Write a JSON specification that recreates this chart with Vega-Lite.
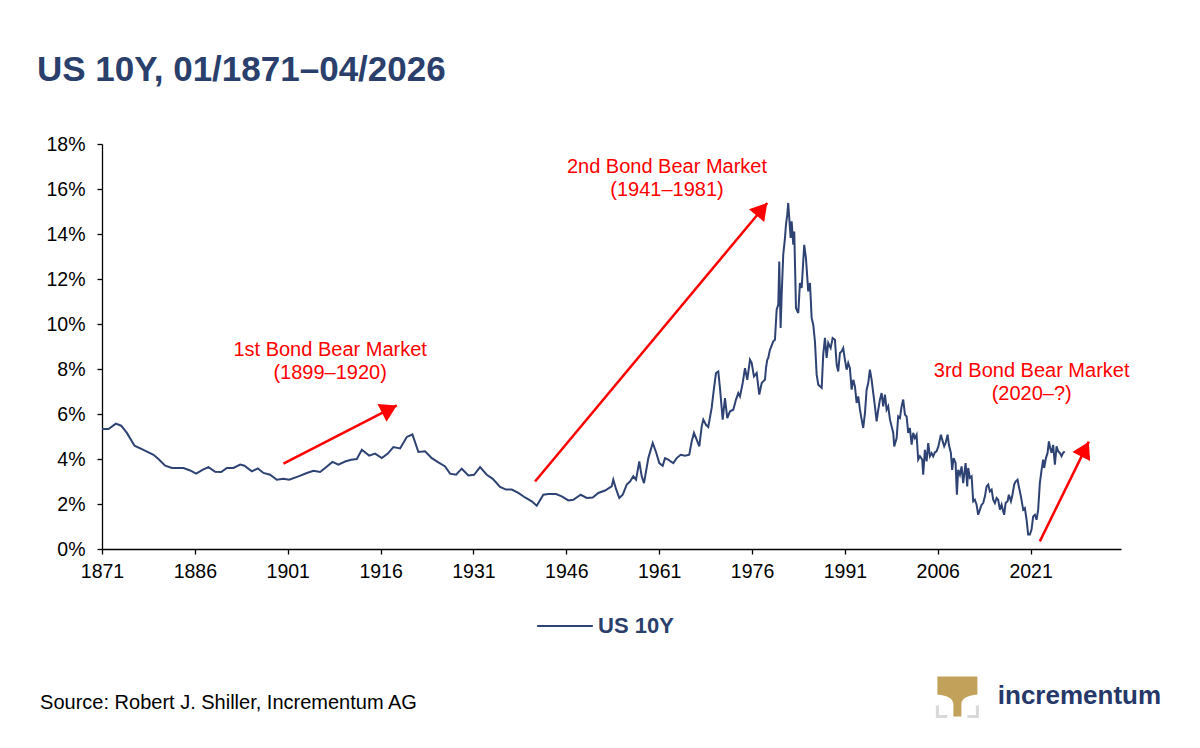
{
  "$schema": "https://vega.github.io/schema/vega-lite/v6.json",
  "width": 1019,
  "height": 405,
  "autosize": "none",
  "padding": {"left": 102, "top": 144, "right": 79, "bottom": 199},
  "background": "white",
  "config": {
    "font": "Liberation Sans",
    "view": {"stroke": null},
    "axis": {
      "grid": false,
      "domainColor": "#000000",
      "domainWidth": 1.3,
      "tickColor": "#000000",
      "tickWidth": 1.3,
      "tickSize": 5,
      "labelFont": "Liberation Sans",
      "labelFontSize": 19.5,
      "labelColor": "#000000",
      "titleFontSize": 0
    }
  },
  "title": {
    "text": "US 10Y, 01/1871–04/2026",
    "anchor": "start",
    "frame": "group",
    "dx": -65,
    "offset": 18,
    "baseline": "alphabetic",
    "font": "Liberation Sans",
    "fontSize": 35,
    "fontWeight": "bold",
    "color": "#2A3F6C"
  },
  "datasets": {
    "yields": [
      {"t": 1871.0, "v": 5.33}, {"t": 1872.05, "v": 5.33}, {"t": 1873.24, "v": 5.57}, {"t": 1874.1, "v": 5.48},
      {"t": 1875.02, "v": 5.16}, {"t": 1876.25, "v": 4.59}, {"t": 1877.44, "v": 4.44}, {"t": 1879.32, "v": 4.19},
      {"t": 1880.12, "v": 4.0}, {"t": 1881.2, "v": 3.7}, {"t": 1882.29, "v": 3.6}, {"t": 1884.16, "v": 3.6},
      {"t": 1885.24, "v": 3.49}, {"t": 1886.21, "v": 3.35}, {"t": 1887.23, "v": 3.52}, {"t": 1888.2, "v": 3.64},
      {"t": 1889.28, "v": 3.43}, {"t": 1890.25, "v": 3.42}, {"t": 1891.17, "v": 3.6}, {"t": 1892.23, "v": 3.6},
      {"t": 1893.32, "v": 3.75}, {"t": 1894.01, "v": 3.7}, {"t": 1895.2, "v": 3.45}, {"t": 1896.17, "v": 3.58},
      {"t": 1897.08, "v": 3.38}, {"t": 1898.16, "v": 3.3}, {"t": 1899.24, "v": 3.08}, {"t": 1900.31, "v": 3.12},
      {"t": 1901.23, "v": 3.08}, {"t": 1902.73, "v": 3.23}, {"t": 1904.09, "v": 3.38}, {"t": 1905.15, "v": 3.48},
      {"t": 1906.23, "v": 3.42}, {"t": 1907.04, "v": 3.6}, {"t": 1908.22, "v": 3.87}, {"t": 1909.19, "v": 3.75},
      {"t": 1910.27, "v": 3.89}, {"t": 1911.24, "v": 3.97}, {"t": 1912.16, "v": 4.0}, {"t": 1912.97, "v": 4.41},
      {"t": 1914.15, "v": 4.15}, {"t": 1915.11, "v": 4.24}, {"t": 1916.2, "v": 4.04}, {"t": 1917.16, "v": 4.24},
      {"t": 1918.07, "v": 4.53}, {"t": 1919.15, "v": 4.47}, {"t": 1920.23, "v": 4.98}, {"t": 1921.14, "v": 5.09},
      {"t": 1922.11, "v": 4.31}, {"t": 1923.19, "v": 4.34}, {"t": 1924.27, "v": 4.04}, {"t": 1925.34, "v": 3.85},
      {"t": 1926.42, "v": 3.67}, {"t": 1927.22, "v": 3.35}, {"t": 1928.19, "v": 3.3}, {"t": 1929.11, "v": 3.57},
      {"t": 1930.18, "v": 3.27}, {"t": 1931.1, "v": 3.3}, {"t": 1932.07, "v": 3.64}, {"t": 1933.15, "v": 3.3},
      {"t": 1934.12, "v": 3.12}, {"t": 1935.3, "v": 2.76}, {"t": 1936.27, "v": 2.64}, {"t": 1937.19, "v": 2.64},
      {"t": 1938.25, "v": 2.49}, {"t": 1939.33, "v": 2.29}, {"t": 1940.42, "v": 2.12}, {"t": 1941.22, "v": 1.92},
      {"t": 1942.29, "v": 2.41}, {"t": 1943.1, "v": 2.44}, {"t": 1944.34, "v": 2.44}, {"t": 1945.26, "v": 2.34},
      {"t": 1946.33, "v": 2.16}, {"t": 1947.13, "v": 2.19}, {"t": 1948.33, "v": 2.41}, {"t": 1949.3, "v": 2.27},
      {"t": 1950.27, "v": 2.29}, {"t": 1951.17, "v": 2.49}, {"t": 1952.25, "v": 2.6}, {"t": 1953.33, "v": 2.78},
      {"t": 1953.59, "v": 3.08}, {"t": 1954.03, "v": 2.67}, {"t": 1954.56, "v": 2.27}, {"t": 1955.11, "v": 2.41},
      {"t": 1955.76, "v": 2.86}, {"t": 1956.29, "v": 3.0}, {"t": 1956.82, "v": 3.23}, {"t": 1957.26, "v": 3.08},
      {"t": 1957.79, "v": 3.89}, {"t": 1958.18, "v": 3.23}, {"t": 1958.55, "v": 2.93}, {"t": 1959.25, "v": 4.04},
      {"t": 1959.96, "v": 4.71}, {"t": 1960.5, "v": 4.3}, {"t": 1961.02, "v": 3.82}, {"t": 1961.57, "v": 3.7},
      {"t": 1961.94, "v": 4.04}, {"t": 1962.47, "v": 3.97}, {"t": 1962.86, "v": 3.89}, {"t": 1963.28, "v": 3.82},
      {"t": 1963.83, "v": 4.04}, {"t": 1964.48, "v": 4.19}, {"t": 1965.17, "v": 4.15}, {"t": 1965.86, "v": 4.19},
      {"t": 1966.25, "v": 4.78}, {"t": 1966.62, "v": 5.16}, {"t": 1967.06, "v": 4.86}, {"t": 1967.48, "v": 4.56},
      {"t": 1967.87, "v": 5.45}, {"t": 1968.13, "v": 5.75}, {"t": 1968.56, "v": 5.52}, {"t": 1968.93, "v": 5.42},
      {"t": 1969.48, "v": 6.27}, {"t": 1969.86, "v": 7.16}, {"t": 1970.18, "v": 7.82}, {"t": 1970.55, "v": 7.89},
      {"t": 1970.82, "v": 7.16}, {"t": 1971.26, "v": 5.75}, {"t": 1971.63, "v": 6.71}, {"t": 1972.0, "v": 5.82},
      {"t": 1972.44, "v": 6.12}, {"t": 1972.97, "v": 6.19}, {"t": 1973.41, "v": 6.64}, {"t": 1973.78, "v": 6.93},
      {"t": 1974.05, "v": 6.78}, {"t": 1974.49, "v": 7.38}, {"t": 1974.86, "v": 8.04}, {"t": 1975.23, "v": 7.52},
      {"t": 1975.67, "v": 8.41}, {"t": 1975.94, "v": 8.27}, {"t": 1976.31, "v": 7.67}, {"t": 1976.75, "v": 7.82},
      {"t": 1977.17, "v": 6.86}, {"t": 1977.56, "v": 7.38}, {"t": 1977.81, "v": 7.45}, {"t": 1978.09, "v": 7.52},
      {"t": 1978.25, "v": 8.04}, {"t": 1978.46, "v": 8.41}, {"t": 1978.62, "v": 8.49}, {"t": 1978.9, "v": 8.86},
      {"t": 1979.01, "v": 8.93}, {"t": 1979.43, "v": 9.23}, {"t": 1979.7, "v": 9.3}, {"t": 1979.98, "v": 10.64},
      {"t": 1980.24, "v": 10.86}, {"t": 1980.4, "v": 12.78}, {"t": 1980.62, "v": 9.82}, {"t": 1980.79, "v": 11.3},
      {"t": 1981.04, "v": 13.08}, {"t": 1981.32, "v": 13.82}, {"t": 1981.48, "v": 14.41}, {"t": 1981.69, "v": 14.86},
      {"t": 1981.85, "v": 15.38}, {"t": 1982.01, "v": 14.71}, {"t": 1982.24, "v": 13.82}, {"t": 1982.4, "v": 14.56},
      {"t": 1982.66, "v": 13.52}, {"t": 1982.82, "v": 14.11}, {"t": 1983.1, "v": 10.71}, {"t": 1983.47, "v": 10.49},
      {"t": 1983.74, "v": 11.82}, {"t": 1984.02, "v": 11.6}, {"t": 1984.43, "v": 13.52}, {"t": 1984.71, "v": 12.93},
      {"t": 1985.08, "v": 11.45}, {"t": 1985.36, "v": 11.82}, {"t": 1985.63, "v": 10.27}, {"t": 1985.89, "v": 9.97},
      {"t": 1986.16, "v": 9.23}, {"t": 1986.44, "v": 7.75}, {"t": 1986.7, "v": 7.3}, {"t": 1986.97, "v": 7.23},
      {"t": 1987.25, "v": 7.16}, {"t": 1987.5, "v": 8.64}, {"t": 1987.78, "v": 9.38}, {"t": 1988.05, "v": 8.49},
      {"t": 1988.31, "v": 9.16}, {"t": 1988.7, "v": 8.93}, {"t": 1989.02, "v": 9.38}, {"t": 1989.39, "v": 9.3},
      {"t": 1989.67, "v": 8.2}, {"t": 1989.92, "v": 7.89}, {"t": 1990.2, "v": 8.71}, {"t": 1990.47, "v": 8.78},
      {"t": 1990.73, "v": 8.93}, {"t": 1991.01, "v": 8.41}, {"t": 1991.28, "v": 7.97}, {"t": 1991.54, "v": 8.27},
      {"t": 1991.81, "v": 8.04}, {"t": 1992.09, "v": 7.08}, {"t": 1992.35, "v": 7.52}, {"t": 1992.62, "v": 7.23},
      {"t": 1992.9, "v": 6.49}, {"t": 1993.16, "v": 6.78}, {"t": 1993.43, "v": 6.19}, {"t": 1993.71, "v": 5.75},
      {"t": 1993.96, "v": 5.38}, {"t": 1994.24, "v": 6.04}, {"t": 1994.51, "v": 7.08}, {"t": 1994.77, "v": 7.38},
      {"t": 1995.04, "v": 7.97}, {"t": 1995.32, "v": 7.52}, {"t": 1995.58, "v": 6.93}, {"t": 1995.85, "v": 6.34},
      {"t": 1996.13, "v": 5.67}, {"t": 1996.39, "v": 6.19}, {"t": 1996.66, "v": 6.64}, {"t": 1996.93, "v": 6.93},
      {"t": 1997.19, "v": 6.34}, {"t": 1997.47, "v": 6.86}, {"t": 1997.74, "v": 6.19}, {"t": 1998.0, "v": 6.34},
      {"t": 1998.28, "v": 5.75}, {"t": 1998.55, "v": 5.45}, {"t": 1998.81, "v": 5.16}, {"t": 1998.97, "v": 4.56},
      {"t": 1999.36, "v": 4.93}, {"t": 1999.61, "v": 5.89}, {"t": 1999.89, "v": 5.82}, {"t": 2000.16, "v": 6.34},
      {"t": 2000.42, "v": 6.64}, {"t": 2000.7, "v": 5.97}, {"t": 2000.97, "v": 5.89}, {"t": 2001.23, "v": 5.16},
      {"t": 2001.5, "v": 5.38}, {"t": 2001.78, "v": 4.64}, {"t": 2002.04, "v": 5.16}, {"t": 2002.31, "v": 4.93},
      {"t": 2002.58, "v": 5.08}, {"t": 2002.84, "v": 3.97}, {"t": 2003.12, "v": 4.12}, {"t": 2003.49, "v": 3.97},
      {"t": 2003.65, "v": 3.3}, {"t": 2003.92, "v": 4.41}, {"t": 2004.2, "v": 3.89}, {"t": 2004.46, "v": 4.71},
      {"t": 2004.73, "v": 4.12}, {"t": 2005.0, "v": 4.26}, {"t": 2005.26, "v": 4.12}, {"t": 2005.54, "v": 4.3},
      {"t": 2005.81, "v": 4.34}, {"t": 2006.1, "v": 4.56}, {"t": 2006.51, "v": 5.08}, {"t": 2006.72, "v": 4.86},
      {"t": 2007.04, "v": 4.56}, {"t": 2007.27, "v": 4.71}, {"t": 2007.59, "v": 5.08}, {"t": 2007.8, "v": 4.63},
      {"t": 2008.12, "v": 4.27}, {"t": 2008.33, "v": 3.52}, {"t": 2008.56, "v": 4.04}, {"t": 2008.88, "v": 3.82},
      {"t": 2009.09, "v": 2.41}, {"t": 2009.3, "v": 3.52}, {"t": 2009.58, "v": 3.3}, {"t": 2009.85, "v": 3.67},
      {"t": 2010.11, "v": 2.93}, {"t": 2010.5, "v": 3.82}, {"t": 2010.76, "v": 2.78}, {"t": 2010.92, "v": 3.6},
      {"t": 2011.19, "v": 3.16}, {"t": 2011.47, "v": 3.23}, {"t": 2011.73, "v": 2.12}, {"t": 2012.0, "v": 2.19},
      {"t": 2012.27, "v": 1.97}, {"t": 2012.53, "v": 1.52}, {"t": 2012.81, "v": 1.75}, {"t": 2013.08, "v": 1.97},
      {"t": 2013.34, "v": 2.04}, {"t": 2013.62, "v": 2.34}, {"t": 2013.89, "v": 2.78}, {"t": 2014.15, "v": 2.86},
      {"t": 2014.42, "v": 2.56}, {"t": 2014.7, "v": 2.64}, {"t": 2014.96, "v": 2.19}, {"t": 2015.23, "v": 2.04},
      {"t": 2015.51, "v": 2.27}, {"t": 2015.76, "v": 2.19}, {"t": 2016.04, "v": 1.75}, {"t": 2016.31, "v": 1.97},
      {"t": 2016.57, "v": 1.67}, {"t": 2016.73, "v": 1.52}, {"t": 2016.96, "v": 2.04}, {"t": 2017.28, "v": 2.12},
      {"t": 2017.49, "v": 2.41}, {"t": 2017.82, "v": 2.12}, {"t": 2018.02, "v": 2.34}, {"t": 2018.35, "v": 2.86},
      {"t": 2018.57, "v": 3.0}, {"t": 2018.89, "v": 3.08}, {"t": 2019.1, "v": 2.78}, {"t": 2019.43, "v": 2.34},
      {"t": 2019.8, "v": 1.75}, {"t": 2020.07, "v": 1.82}, {"t": 2020.35, "v": 1.3}, {"t": 2020.6, "v": 0.64},
      {"t": 2020.88, "v": 0.64}, {"t": 2021.15, "v": 0.86}, {"t": 2021.41, "v": 1.45}, {"t": 2021.69, "v": 1.52},
      {"t": 2021.96, "v": 1.3}, {"t": 2022.22, "v": 1.75}, {"t": 2022.49, "v": 2.93}, {"t": 2022.77, "v": 3.52},
      {"t": 2023.03, "v": 3.97}, {"t": 2023.19, "v": 3.6}, {"t": 2023.47, "v": 4.04}, {"t": 2023.74, "v": 4.27},
      {"t": 2023.95, "v": 4.78}, {"t": 2024.16, "v": 4.49}, {"t": 2024.39, "v": 4.27}, {"t": 2024.64, "v": 4.63},
      {"t": 2024.92, "v": 3.75}, {"t": 2025.19, "v": 4.56}, {"t": 2025.45, "v": 4.34}, {"t": 2025.72, "v": 4.27},
      {"t": 2025.99, "v": 4.12}, {"t": 2026.25, "v": 4.27}, {"t": 2026.5, "v": 4.34}
    ],
    "arrows": [
      {"id": 1, "t": 1900.31, "v": 3.79, "t2": 1918.62, "v2": 6.38},
      {"id": 2, "t": 1940.95, "v": 3.0, "t2": 1978.46, "v2": 15.38},
      {"id": 3, "t": 2022.49, "v": 0.34, "t2": 2030.4, "v2": 4.77}
    ],
    "notes": [
      {"t": 1907.85, "v": 8.86, "label": "1st Bond Bear Market"},
      {"t": 1907.85, "v": 7.84, "label": "(1899–1920)"},
      {"t": 1962.26, "v": 16.99, "label": "2nd Bond Bear Market"},
      {"t": 1962.26, "v": 15.97, "label": "(1941–1981)"},
      {"t": 2021.17, "v": 7.93, "label": "3rd Bond Bear Market"},
      {"t": 2021.17, "v": 6.9, "label": "(2020–?)"}
    ],
    "footer": [
      {"t": 1861.0, "v": -6.83, "label": "Source: Robert J. Shiller, Incrementum AG"}
    ],
    "brand": [
      {"t": 2015.7, "v": -6.55, "label": "incrementum"}
    ],
    "logo": [
      {"t": 2009.17, "v": -6.56}
    ]
  },
  "layer": [
    {
      "data": {"name": "yields"},
      "mark": {"type": "line", "strokeWidth": 2, "interpolate": "linear"},
      "encoding": {
        "x": {
          "field": "t", "type": "quantitative",
          "scale": {"domain": [1871, 2035.6], "nice": false, "zero": false},
          "axis": {
            "title": null,
            "values": [1871, 1886, 1901, 1916, 1931, 1946, 1961, 1976, 1991, 2006, 2021],
            "format": "d",
            "labelPadding": 8,
            "labelFlush": false
          }
        },
        "y": {
          "field": "v", "type": "quantitative",
          "scale": {"domain": [0, 18], "nice": false},
          "axis": {
            "title": null,
            "values": [0, 2, 4, 6, 8, 10, 12, 14, 16, 18],
            "labelExpr": "datum.value + '%'",
            "labelPadding": 12
          }
        },
        "color": {
          "datum": "US 10Y",
          "type": "nominal",
          "scale": {"domain": ["US 10Y"], "range": ["#2E4373"]},
          "legend": {
            "title": null,
            "orient": "none",
            "legendX": 434,
            "legendY": 453,
            "symbolType": "stroke",
            "symbolSize": 3100,
            "symbolStrokeWidth": 2,
            "labelFont": "Liberation Sans",
            "labelFontSize": 22,
            "labelFontWeight": "bold",
            "labelColor": "#2A3F6C",
            "labelOffset": 4
          }
        }
      }
    },
    {
      "data": {"name": "arrows"},
      "mark": {"type": "rule", "color": "#FF0000", "strokeWidth": 2.5},
      "encoding": {
        "x": {"field": "t", "type": "quantitative"},
        "y": {"field": "v", "type": "quantitative"},
        "x2": {"field": "t2"},
        "y2": {"field": "v2"}
      }
    },
    {
      "data": {"name": "arrows"},
      "transform": [{"filter": "datum.id == 1"}],
      "mark": {"type": "point", "shape": "M0,0 L-0.6,1 L0.6,1 Z", "size": 1100, "filled": true, "opacity": 1, "color": "#FF0000", "angle": 63},
      "encoding": {
        "x": {"field": "t2", "type": "quantitative"},
        "y": {"field": "v2", "type": "quantitative"}
      }
    },
    {
      "data": {"name": "arrows"},
      "transform": [{"filter": "datum.id == 2"}],
      "mark": {"type": "point", "shape": "M0,0 L-0.6,1 L0.6,1 Z", "size": 1100, "filled": true, "opacity": 1, "color": "#FF0000", "angle": 40},
      "encoding": {
        "x": {"field": "t2", "type": "quantitative"},
        "y": {"field": "v2", "type": "quantitative"}
      }
    },
    {
      "data": {"name": "arrows"},
      "transform": [{"filter": "datum.id == 3"}],
      "mark": {"type": "point", "shape": "M0,0 L-0.6,1 L0.6,1 Z", "size": 1100, "filled": true, "opacity": 1, "color": "#FF0000", "angle": 27},
      "encoding": {
        "x": {"field": "t2", "type": "quantitative"},
        "y": {"field": "v2", "type": "quantitative"}
      }
    },
    {
      "data": {"name": "notes"},
      "mark": {"type": "text", "color": "#FF0000", "font": "Liberation Sans", "fontSize": 20, "align": "center", "baseline": "middle"},
      "encoding": {
        "x": {"field": "t", "type": "quantitative"},
        "y": {"field": "v", "type": "quantitative"},
        "text": {"field": "label"}
      }
    },
    {
      "data": {"name": "footer"},
      "mark": {"type": "text", "color": "#000000", "font": "Liberation Sans", "fontSize": 20, "align": "left", "baseline": "middle"},
      "encoding": {
        "x": {"field": "t", "type": "quantitative"},
        "y": {"field": "v", "type": "quantitative"},
        "text": {"field": "label"}
      }
    },
    {
      "data": {"name": "brand"},
      "mark": {"type": "text", "color": "#26386A", "font": "Liberation Sans", "fontSize": 26, "fontWeight": "bold", "align": "left", "baseline": "middle"},
      "encoding": {
        "x": {"field": "t", "type": "quantitative"},
        "y": {"field": "v", "type": "quantitative"},
        "text": {"field": "label"}
      }
    },
    {
      "data": {"name": "logo"},
      "mark": {"type": "point", "shape": "M-1,-1 L1,-1 L1,-0.1 C0.55,-0.05 0.25,0.05 0.2,0.35 L0.2,1 L-0.2,1 L-0.2,0.35 C-0.25,0.05 -0.55,-0.05 -1,-0.1 Z", "size": 1600, "filled": true, "opacity": 1, "color": "#C2A25A"},
      "encoding": {
        "x": {"field": "t", "type": "quantitative"},
        "y": {"field": "v", "type": "quantitative"}
      }
    },
    {
      "data": {"name": "logo"},
      "mark": {"type": "point", "shape": "M-1,0.45 L-1,1 L-0.5,1 M1,0.45 L1,1 L0.5,1", "size": 1600, "filled": false, "opacity": 1, "color": "#D9D9D9", "strokeWidth": 3},
      "encoding": {
        "x": {"field": "t", "type": "quantitative"},
        "y": {"field": "v", "type": "quantitative"}
      }
    }
  ]
}
